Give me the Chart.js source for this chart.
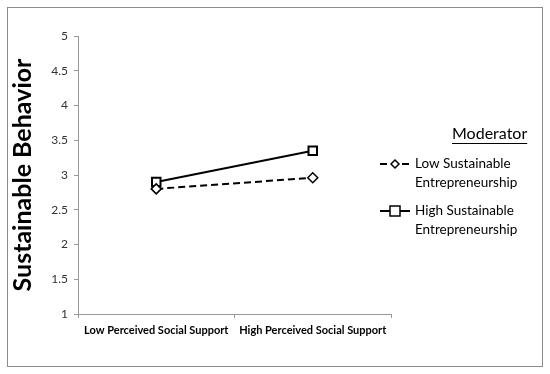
<!DOCTYPE html>
<html>
<head>
<meta charset="utf-8">
<script src="https://cdn.jsdelivr.net/npm/chart.js@4"></script>
<style>
  body { margin: 0; background: #fff; }
  #box { position: absolute; left: 7px; top: 7px; width: 536px; height: 360px; border: 1px solid #8c8c8c; box-sizing: border-box; }
</style>
</head>
<body>
<div id="box"><canvas id="chart"></canvas></div>
<script>
const categories = ['Low Perceived Social Support', 'High Perceived Social Support'];
const lowSE = [2.8, 2.96];
const highSE = [2.9, 3.35];
const seriesNames = [['Low Sustainable', 'Entrepreneurship'], ['High Sustainable', 'Entrepreneurship']];
const legendTitle = 'Moderator';
const yTicks = [1, 1.5, 2, 2.5, 3, 3.5, 4, 4.5, 5];

const FONT = 'Lato, "Open Sans", sans-serif';

// legend drawn on the right, like the original
const sideLegend = {
  id: 'sideLegend',
  afterDraw(chart) {
    const ctx = chart.ctx;
    ctx.save();
    ctx.fillStyle = '#000';
    ctx.font = '16px ' + FONT;
    ctx.textBaseline = 'middle';
    const tx = 444, ty = 126;
    ctx.fillText(legendTitle, tx, ty);
    const tw = ctx.measureText(legendTitle).width;
    ctx.fillRect(tx, ty + 9, tw, 1);

    ctx.font = '13.5px ' + FONT;
    chart.data.datasets.forEach((ds, i) => {
      const y = 156 + i * 47;
      ctx.strokeStyle = '#000';
      ctx.lineWidth = 2;
      ctx.setLineDash(ds.borderDash || []);
      ctx.beginPath();
      ctx.moveTo(372, y);
      ctx.lineTo(402, y);
      ctx.stroke();
      ctx.setLineDash([]);
      ctx.fillStyle = '#fff';
      ctx.lineWidth = 1.5;
      const r = ds.pointRadius - 1;
      ctx.beginPath();
      if (ds.pointStyle === 'rect') {
        ctx.rect(387 - r, y - r, r * 2, r * 2);
      } else {
        ctx.moveTo(387, y - r); ctx.lineTo(387 + r, y); ctx.lineTo(387, y + r); ctx.lineTo(387 - r, y); ctx.closePath();
      }
      ctx.fill();
      ctx.stroke();
      ctx.fillStyle = '#000';
      ctx.fillText(seriesNames[i][0], 407, y);
      ctx.fillText(seriesNames[i][1], 407, y + 19);
    });
    ctx.restore();
  }
};

new Chart(document.getElementById('chart'), {
  type: 'line',
  data: {
    labels: categories,
    datasets: [
      {
        label: seriesNames[0].join(' '),
        data: lowSE,
        borderColor: '#000',
        borderWidth: 2,
        borderDash: [7, 4],
        pointStyle: 'rectRot',
        pointRadius: 5,
        pointBorderWidth: 1.5,
        pointBackgroundColor: '#fff',
        pointBorderColor: '#000'
      },
      {
        label: seriesNames[1].join(' '),
        data: highSE,
        borderColor: '#000',
        borderWidth: 2,
        pointStyle: 'rect',
        pointRadius: 6,
        pointBorderWidth: 2,
        pointBackgroundColor: '#fff',
        pointBorderColor: '#000'
      }
    ]
  },
  options: {
    responsive: true,
    maintainAspectRatio: false,
    animation: false,
    layout: { padding: { top: 28, right: 151, left: 0, bottom: 0 } },
    plugins: { legend: { display: false }, tooltip: { enabled: false } },
    scales: {
      x: {
        offset: true,
        grid: { offset: true, drawOnChartArea: false, drawTicks: true, tickLength: 4, color: '#999' },
        border: { color: '#999', width: 1 },
        ticks: { color: '#000', font: { family: FONT, size: 11, weight: 'bold' }, maxRotation: 0, padding: 6 },
        afterFit(s) { s.height = 52; }
      },
      y: {
        min: 1,
        max: 5,
        afterBuildTicks(s) { s.ticks = yTicks.map(v => ({ value: v })); },
        grid: { drawOnChartArea: false, drawTicks: true, tickLength: 4, color: '#999' },
        border: { color: '#999', width: 1 },
        ticks: { color: '#333', font: { family: FONT, size: 12 }, padding: 6, callback: v => String(v) },
        title: { display: true, text: 'Sustainable Behavior', color: '#000', font: { family: FONT, size: 25, weight: 'bold' }, padding: { top: 0, bottom: 4 } },
        afterFit(s) { s.width = 70; }
      }
    }
  },
  plugins: [sideLegend]
});
</script>
</body>
</html>
